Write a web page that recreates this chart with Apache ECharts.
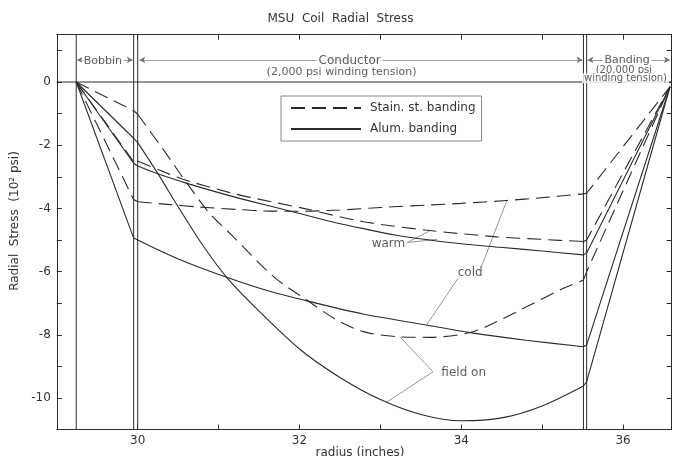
<!DOCTYPE html>
<html><head><meta charset="utf-8">
<script src="https://cdn.jsdelivr.net/npm/echarts@6/dist/echarts.min.js"></script>
<style>html,body{margin:0;padding:0;background:#fff}#c{width:681px;height:456px}</style>
</head><body><div id="c"></div>
<script>
// ---- axes ----
const xMin = 29, xMax = 36.6, yMin = -11, yMax = 1.5;
// region boundaries (radius, inches): bobbin inner, bobbin outer, conductor inner, conductor outer, banding inner
const regionBounds = [29.24, 29.95, 30.0, 35.51, 35.55];
const pivotLeft = [29.24, 0];
const pivotRight = [36.58, -0.15];

// ---- conductor curves (radius, stress 10^2 psi) ----
const fieldOnStainR = [30.0, 30.32, 30.61, 30.89, 31.14, 31.68, 32.09, 32.46, 32.79, 33.2, 33.61, 34.11, 34.44, 34.85, 35.26, 35.51];
const fieldOnStainS = [-1.02, -2.15, -3.21, -4.16, -4.79, -6.16, -6.9, -7.53, -7.9, -8.06, -8.08, -7.93, -7.58, -7.06, -6.53, -6.27];
const fieldOnStainBobbin = -0.91, fieldOnStainBanding = -6.0;

const fieldOnAlumR = [30.0, 30.25, 30.5, 30.8, 31.1, 31.5, 32.0, 32.5, 33.0, 33.5, 34.0, 34.5, 35.0, 35.51];
const fieldOnAlumS = [-1.92, -2.9, -3.95, -5.15, -6.18, -7.25, -8.45, -9.35, -10.05, -10.52, -10.72, -10.63, -10.25, -9.62];
const fieldOnAlumBobbin = -1.78, fieldOnAlumBanding = -9.48;

const warmAlumR = [30.0, 30.23, 30.6, 31.0, 31.39, 31.88, 32.4, 32.79, 33.2, 33.61, 34.0, 34.48, 35.0, 35.51];
const warmAlumS = [-2.66, -2.89, -3.2, -3.5, -3.77, -4.08, -4.42, -4.64, -4.85, -5.0, -5.12, -5.23, -5.35, -5.47];
const warmAlumBobbin = -2.57, warmAlumBanding = -5.41;

const warmStainR = [30.0, 30.3, 30.56, 31.14, 31.39, 32.05, 32.79, 33.61, 34.44, 35.0, 35.51];
const warmStainS = [-2.5, -2.82, -3.08, -3.5, -3.65, -4.0, -4.42, -4.7, -4.9, -4.98, -5.05];
const warmStainBobbin = -2.52, warmStainBanding = -5.0;

const coldStainR = [30.0, 30.4, 30.73, 31.2, 31.55, 32.0, 32.5, 33.0, 33.61, 34.0, 34.56, 35.0, 35.51];
const coldStainS = [-3.79, -3.88, -3.95, -4.03, -4.08, -4.09, -4.05, -3.97, -3.89, -3.84, -3.75, -3.66, -3.54];
const coldStainBobbin = -3.72, coldStainBanding = -3.52;

const coldAlumR = [30.0, 30.5, 31.1, 31.6, 32.13, 32.8, 33.57, 34.11, 34.8, 35.51];
const coldAlumS = [-5.0, -5.6, -6.18, -6.6, -6.95, -7.35, -7.69, -7.93, -8.17, -8.38];
const coldAlumBobbin = -4.94, coldAlumBanding = -8.32;

// ---- annotations ----
const warmLabel = [33.10, -5.11];
const warmLeaders = [[[33.33, -5.08], [33.61, -4.71]], [[33.33, -5.08], [33.70, -4.98]]];
const coldLabel = [34.11, -6.05];
const coldLeaders = [[[33.96, -6.21], [33.57, -7.69]], [[34.25, -5.84], [34.56, -3.77]]];
const fieldOnLabel = [34.03, -9.22];
const fieldOnLeaders = [[[33.65, -9.17], [33.24, -8.06]], [[33.65, -9.17], [33.08, -10.13]]];

const regionArrowY = 0.7;
const regionArrows = [[29.25, 29.94], [30.02, 35.5], [35.56, 36.58]];
const regionTexts = [
  ['Bobbin', 29.57, 0.66, 11],
  ['Conductor', 32.62, 0.66, 12],
  ['(2,000 psi winding tension)', 32.52, 0.32, 11],
  ['Banding', 36.05, 0.68, 11],
  ['(20,000 psi', 36.01, 0.38, 10],
  ['winding tension)', 36.03, 0.12, 10]
];

const STAIN = 'Stain. st. banding', ALUM = 'Alum. banding';
const INK = '#2b2b2b';
const FONT = 'DejaVu Sans';
const zip = (a, b) => a.map((v, i) => [v, b[i]]);

const curves = [
  [STAIN, fieldOnStainR, fieldOnStainS, fieldOnStainBobbin, fieldOnStainBanding],
  [ALUM, fieldOnAlumR, fieldOnAlumS, fieldOnAlumBobbin, fieldOnAlumBanding],
  [ALUM, warmAlumR, warmAlumS, warmAlumBobbin, warmAlumBanding],
  [STAIN, warmStainR, warmStainS, warmStainBobbin, warmStainBanding],
  [STAIN, coldStainR, coldStainS, coldStainBobbin, coldStainBanding],
  [ALUM, coldAlumR, coldAlumS, coldAlumBobbin, coldAlumBanding]
];

const series = [];
function lineStyleFor(name) {
  return { color: INK, width: 1.1, type: name === STAIN ? [14, 7] : 'solid' };
}
// zero line and region boundaries
series.push({ type: 'line', data: [[xMin, 0], [xMax, 0]], symbol: 'none', silent: true, lineStyle: { color: INK, width: 1 }, z: 1 });
regionBounds.forEach(b => series.push({ type: 'line', data: [[b, yMax], [b, yMin]], symbol: 'none', silent: true, lineStyle: { color: INK, width: 1 }, z: 1 }));

curves.forEach(([name, r, s, bob, band]) => {
  series.push({ name, type: 'line', data: zip(r, s), smooth: 0.3, symbol: 'none', itemStyle: { color: INK }, lineStyle: lineStyleFor(name), z: 3 });
  series.push({ type: 'line', data: [pivotLeft, [regionBounds[1], bob], [r[0], s[0]]], symbol: 'none', lineStyle: lineStyleFor(name), z: 3 });
  series.push({ type: 'line', data: [[r[r.length - 1], s[s.length - 1]], [regionBounds[4], band], pivotRight], symbol: 'none', lineStyle: lineStyleFor(name), z: 3 });
});

// leader lines
[...warmLeaders, ...coldLeaders, ...fieldOnLeaders].forEach(seg => series.push({
  type: 'line', data: seg, symbol: 'none', silent: true, lineStyle: { color: '#8a8a8a', width: 0.9 }, z: 2
}));

// curve group labels
series.push({
  type: 'scatter', symbolSize: 0, silent: true, z: 5,
  data: [
    { value: warmLabel, label: { formatter: 'warm' } },
    { value: coldLabel, label: { formatter: 'cold' } },
    { value: fieldOnLabel, label: { formatter: 'field on' } }
  ],
  label: { show: true, position: 'inside', color: '#333', fontSize: 12, fontFamily: FONT }
});

// region arrows
series.push({
  type: 'line', data: [], silent: true,
  markLine: {
    silent: true, symbol: ['arrow', 'arrow'], symbolSize: [5, 6],
    lineStyle: { color: '#777', width: 0.7, type: 'solid' }, label: { show: false },
    data: regionArrows.map(([a, b]) => [{ coord: [a, regionArrowY] }, { coord: [b, regionArrowY] }])
  }
});
series.push({
  type: 'scatter', symbolSize: 0, silent: true, z: 6,
  data: regionTexts.map(([t, x, y, fs]) => ({ value: [x, y], label: { formatter: t, fontSize: fs } })),
  label: { show: true, position: 'inside', color: '#333', fontFamily: FONT, backgroundColor: '#fff', padding: [0, 2] }
});

const evenOnly = v => (Math.abs(v - Math.round(v)) < 1e-6 && Math.round(v) % 2 === 0) ? String(Math.round(v)) : '';
const axisCommon = {
  type: 'value', splitLine: { show: false }, interval: 1,
  axisLine: { show: true, onZero: false, lineStyle: { color: INK, width: 1 } },
  axisTick: { show: true, inside: true, length: 5, lineStyle: { color: INK } }
};

const chart = echarts.init(document.getElementById('c'), null, { renderer: 'canvas' });
chart.setOption({
  animation: false,
  backgroundColor: '#fff',
  grid: { left: 56.8, right: 9.4, top: 34.6, bottom: 26.4 },
  xAxis: [
    Object.assign({}, axisCommon, { min: xMin, max: xMax, position: 'bottom',
      axisLabel: { formatter: evenOnly, color: '#333', fontSize: 12, fontFamily: FONT, margin: 5 } }),
    Object.assign({}, axisCommon, { min: xMin, max: xMax, position: 'top', axisLabel: { show: false } })
  ],
  yAxis: [
    Object.assign({}, axisCommon, { min: yMin, max: yMax, position: 'left',
      axisLabel: { formatter: evenOnly, color: '#333', fontSize: 12, fontFamily: FONT, margin: 6 } }),
    Object.assign({}, axisCommon, { min: yMin, max: yMax, position: 'right', axisLabel: { show: false } })
  ],
  legend: {
    data: [STAIN, ALUM], orient: 'vertical', left: 281, top: 96,
    itemWidth: 70, itemHeight: 12, itemGap: 9,
    padding: [6, 6, 6, 9], borderColor: '#888', borderWidth: 1, backgroundColor: '#fff',
    itemStyle: { opacity: 0 },
    textStyle: { color: '#333', fontSize: 12, fontFamily: FONT, padding: [0, 0, 0, 4] },
    selectedMode: false
  },
  graphic: [
    { type: 'text', left: 'center', top: 13, style: { text: 'MSU  Coil  Radial  Stress', fill: '#333', font: '12px "DejaVu Sans"' } },
    { type: 'text', x: 15, y: 221, rotation: Math.PI / 2, style: { text: 'Radial  Stress  (10² psi)', fill: '#333', font: '12px "DejaVu Sans"', align: 'center', verticalAlign: 'middle' } },
    { type: 'text', x: 360, y: 453, style: { text: 'radius (inches)', fill: '#333', font: '12px "DejaVu Sans"', align: 'center', verticalAlign: 'middle' } }
  ],
  series
});
</script></body></html>
